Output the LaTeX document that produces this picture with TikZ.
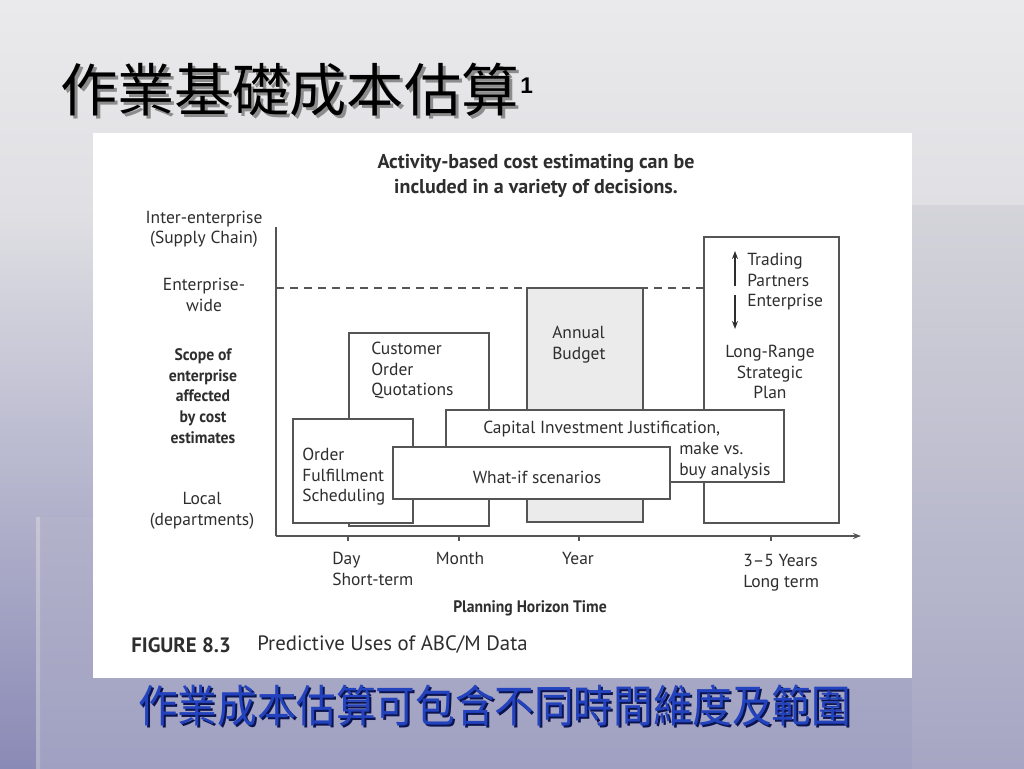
\documentclass[tikz,border=0pt]{standalone}
\usepackage{fontspec}
\setmainfont{PT Sans}
\newfontfamily\cjk{Noto Sans CJK TC}
\newfontfamily\condb[FakeStretch=0.94]{PT Sans Bold}
\newfontfamily\arialb{Liberation Sans Bold}
\usetikzlibrary{arrows.meta}
\definecolor{bga}{HTML}{EAEAEC}
\definecolor{bgb}{HTML}{E0E0E4}
\definecolor{bgc}{HTML}{C2C2D4}
\definecolor{bgd}{HTML}{8A8AB6}
\definecolor{ink}{HTML}{2E2E2E}
\definecolor{edge}{HTML}{555555}
\definecolor{budget}{HTML}{EBEBEB}
\definecolor{capblue}{HTML}{2242BE}
\definecolor{capshadow}{HTML}{0C1450}
\tikzset{
  txt/.style={inner sep=0pt, text=ink, font=\fontsize{13.1pt}{15.4pt}\selectfont},
  bld/.style={inner sep=0pt, text=ink, font=\condb\fontsize{12.5pt}{15.5pt}\selectfont},
  box/.style={draw=edge, line width=0.9pt, fill=white},
  axis/.style={draw=edge, line width=0.9pt},
  tick/.style={draw=edge, line width=0.8pt},
}
\begin{document}
\begin{tikzpicture}[x=0.75pt,y=-0.75pt]
\useasboundingbox (0,0) rectangle (1024,768);
% slide background
\shade[top color=bga, bottom color=bgb] (0,0) rectangle (1024,205.5);
\shade[top color=bgb, bottom color=bgc] (0,205) rectangle (1024,400.5);
\shade[top color=bgc, bottom color=bgd] (0,400) rectangle (1024,768);
\shade[top color={rgb,255:red,178;green,178;blue,202}, bottom color={rgb,255:red,160;green,160;blue,194}] (36,517) rectangle (1024,768);
\shade[top color={rgb,255:red,198;green,198;blue,214}, bottom color={rgb,255:red,176;green,176;blue,202}] (36,517) rectangle (40,768);
\shade[top color={rgb,255:red,212;green,212;blue,218}, bottom color={rgb,255:red,166;green,166;blue,196}] (912,205) rectangle (1024,768);
% title
\node[anchor=west, inner sep=0pt, text=black!45, font=\cjk\fontsize{43pt}{50pt}\selectfont] (titleshadow) at (63,93) {作業基礎成本估算};
\node[anchor=west, inner sep=0pt, text=black, font=\cjk\fontsize{43pt}{50pt}\selectfont] (title) at (60,90) {作業基礎成本估算};
\node[anchor=west, inner sep=0pt, text=black, font=\arialb\fontsize{17pt}{18pt}\selectfont] (titlesup) at (520,86) {1};
% white panel
\fill[white] (93,133) rectangle (912,678);
% heading
\node[inner sep=0pt, text=ink, font=\bfseries\fontsize{15pt}{19pt}\selectfont, align=center] (head) at (536,176) {Activity-based cost estimating can be\\included in a variety of decisions.};
% axes
\coordinate (origin) at (276,536);
\coordinate (ytop) at (276,227);
\coordinate (xend) at (861,536);
\draw[axis] (ytop) -- (origin);
\draw[axis, -{Stealth[length=6pt,width=4.5pt]}] (origin) -- (xend);
\coordinate (dl) at (276,288);
\coordinate (dr) at (840,288);
\draw[draw=edge, line width=0.8pt, dash pattern=on 6pt off 4.5pt] (dl) -- (dr);
% boxes
\draw[box] (349,333) rectangle (489,526);
\node[txt, anchor=north west, align=left] (custt) at (371,342) {Customer\\Order\\Quotations};
\draw[box, fill=budget] (527,288) rectangle (643,522);
\node[txt, anchor=north west, align=left] (budt) at (552,326) {Annual\\Budget};
\draw[box] (704,237) rectangle (839,523);
\node[txt, anchor=north west, align=left] (trad) at (747,253) {Trading\\Partners\\Enterprise};
\coordinate (au1) at (735,286);
\coordinate (au2) at (735,251);
\coordinate (ad1) at (735,295);
\coordinate (ad2) at (735,329);
\draw[draw=ink, line width=0.9pt, -{Stealth[length=6pt,width=4.5pt]}] (au1) -- (au2);
\draw[draw=ink, line width=0.9pt, -{Stealth[length=6pt,width=4.5pt]}] (ad1) -- (ad2);
\node[txt, align=center] (lrsp) at (770,372) {Long-Range\\Strategic\\Plan};
\draw[box] (293,419) rectangle (413,523);
\node[txt, anchor=north west, align=left] (oft) at (302,448) {Order\\Fulfillment\\Scheduling};
\draw[box] (446,410) rectangle (784,482);
\node[txt, anchor=north west] (capt) at (483,421) {Capital Investment Justification,};
\node[txt, anchor=north west, align=left] (mvb) at (679,442) {make vs.\\buy analysis};
\draw[box] (393,447) rectangle (670,499);
\node[txt] (whatif) at (537,477) {What-if scenarios};
% ticks
\foreach \t/\x in {td/348, tm/459, ty/579, tl/771} {
  \coordinate (\t a) at (\x,536);
  \coordinate (\t b) at (\x,541);
  \draw[tick] (\t a) -- (\t b);
}
% y labels
\node[txt, align=center] (ie) at (204,229) {Inter-enterprise\\(Supply Chain)};
\node[txt, align=center] (ew) at (204,295) {Enterprise-\\wide};
\node[bld, align=center] (scope) at (203,396) {Scope of\\enterprise\\affected\\by cost\\estimates};
\node[txt, align=center] (local) at (202,511) {Local\\(departments)};
% x labels
\node[txt, anchor=north west, align=left] (day) at (332,552) {Day\\Short-term};
\node[txt, anchor=north] (month) at (460,552) {Month};
\node[txt, anchor=north] (year) at (578,552) {Year};
\node[txt, anchor=north west, align=left] (long) at (743,554) {3–5 Years\\Long term};
\node[bld] (pht) at (530,608) {Planning Horizon Time};
% figure caption
\node[inner sep=0pt, anchor=west, text=ink, font=\bfseries\fontsize{15.6pt}{17pt}\selectfont] (fig) at (131,645) {FIGURE 8.3};
\node[inner sep=0pt, anchor=west, text=ink, font=\fontsize{15.6pt}{17pt}\selectfont] (figt) at (257,645) {Predictive Uses of ABC/M Data};
% slide caption
\node[anchor=west, inner sep=0pt, text=capshadow, font=\cjk\fontsize{29.7pt}{34pt}\selectfont] (capsh) at (140,708) {\scalebox{1}[1.12]{作業成本估算可包含不同時間維度及範圍}};
\node[anchor=west, inner sep=0pt, text=capblue, font=\cjk\fontsize{29.7pt}{34pt}\selectfont] (cap) at (138,706) {\scalebox{1}[1.12]{作業成本估算可包含不同時間維度及範圍}};
\end{tikzpicture}
\end{document}
